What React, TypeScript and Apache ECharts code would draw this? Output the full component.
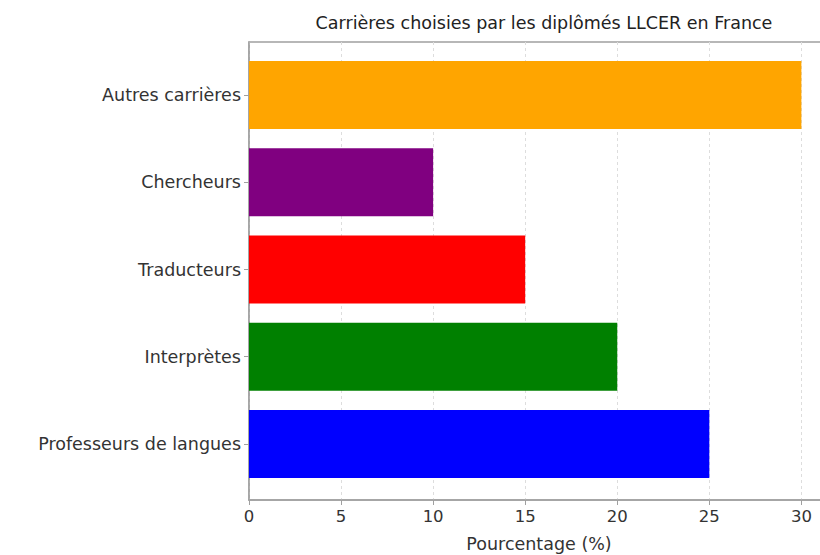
import React, { useEffect, useRef } from "react";
import * as echarts from "echarts";

const categories = ["Professeurs de langues", "Interprètes", "Traducteurs", "Chercheurs", "Autres carrières"];
const values = [25, 20, 15, 10, 30];
const colors = ["#0000FF", "#008000", "#FF0000", "#800080", "#FFA500"];
const xTicks = [0, 5, 10, 15, 20, 25, 30];

const FONT = "DejaVu Sans";
const TEXT = "#333333";

export default function App() {
  const ref = useRef<HTMLDivElement>(null);
  useEffect(() => {
    if (!ref.current) return;
    const chart = echarts.init(ref.current, undefined, { renderer: "svg" });
    chart.setOption({
      animation: false,
      title: {
        text: "Carrières choisies par les diplômés LLCER en France",
        left: 539,
        textAlign: "center",
        top: 9,
        textStyle: { fontFamily: FONT, fontSize: 17.5, fontWeight: "normal", color: "#222" },
      },
      grid: [
        { left: 249, top: 42, width: 580, height: 458, show: true, borderColor: "#a0a0a0", borderWidth: 1.5, backgroundColor: "transparent", outerBoundsMode: "none" },
        { left: 249, top: 51.5, width: 580, height: 436, outerBoundsMode: "none" },
      ],
      xAxis: [
        {
          gridIndex: 0,
          type: "value",
          min: 0,
          max: 31.5,
          interval: 5,
          name: "Pourcentage (%)",
          nameLocation: "middle",
          nameGap: 35,
          nameTextStyle: { fontFamily: FONT, fontSize: 17.5, color: TEXT },
          axisLine: { show: true, lineStyle: { color: "#a0a0a0", width: 1.5 } },
          axisTick: { show: true, length: 5, lineStyle: { color: "#a0a0a0" } },
          axisLabel: {
            fontFamily: FONT,
            fontSize: 16.5,
            color: TEXT,
            margin: 8,
            showMaxLabel: false,
            formatter: (v: number) => (xTicks.includes(v) ? String(v) : ""),
          },
          splitLine: { show: true, lineStyle: { color: "#dddddd", type: [3, 3], width: 1 } },
        },
        {
          gridIndex: 1,
          type: "value",
          min: 0,
          max: 31.5,
          show: false,
        },
      ],
      yAxis: [
        {
          gridIndex: 0,
          type: "value",
          min: 0,
          max: 1,
          axisLine: { show: true, lineStyle: { color: "#a0a0a0", width: 1.5 } },
          axisTick: { show: false },
          axisLabel: { show: false },
          splitLine: { show: false },
        },
        {
          gridIndex: 1,
          type: "category",
          data: categories,
          axisLine: { show: false },
          axisTick: { show: true, alignWithLabel: true, length: 5, lineStyle: { color: "#a0a0a0" } },
          axisLabel: { fontFamily: FONT, fontSize: 17.5, color: TEXT, margin: 8 },
          splitLine: { show: false },
        },
      ],
      series: [
        {
          type: "bar",
          xAxisIndex: 1,
          yAxisIndex: 1,
          barWidth: 68,
          data: values.map((v, i) => ({ value: v, itemStyle: { color: colors[i] } })),
        },
      ],
    });
    return () => chart.dispose();
  }, []);
  return (
    <div style={{ position: "absolute", left: 0, top: 0, width: 820, height: 555, overflow: "hidden" }}>
      <div ref={ref} style={{ width: 840, height: 555 }} />
    </div>
  );
}
